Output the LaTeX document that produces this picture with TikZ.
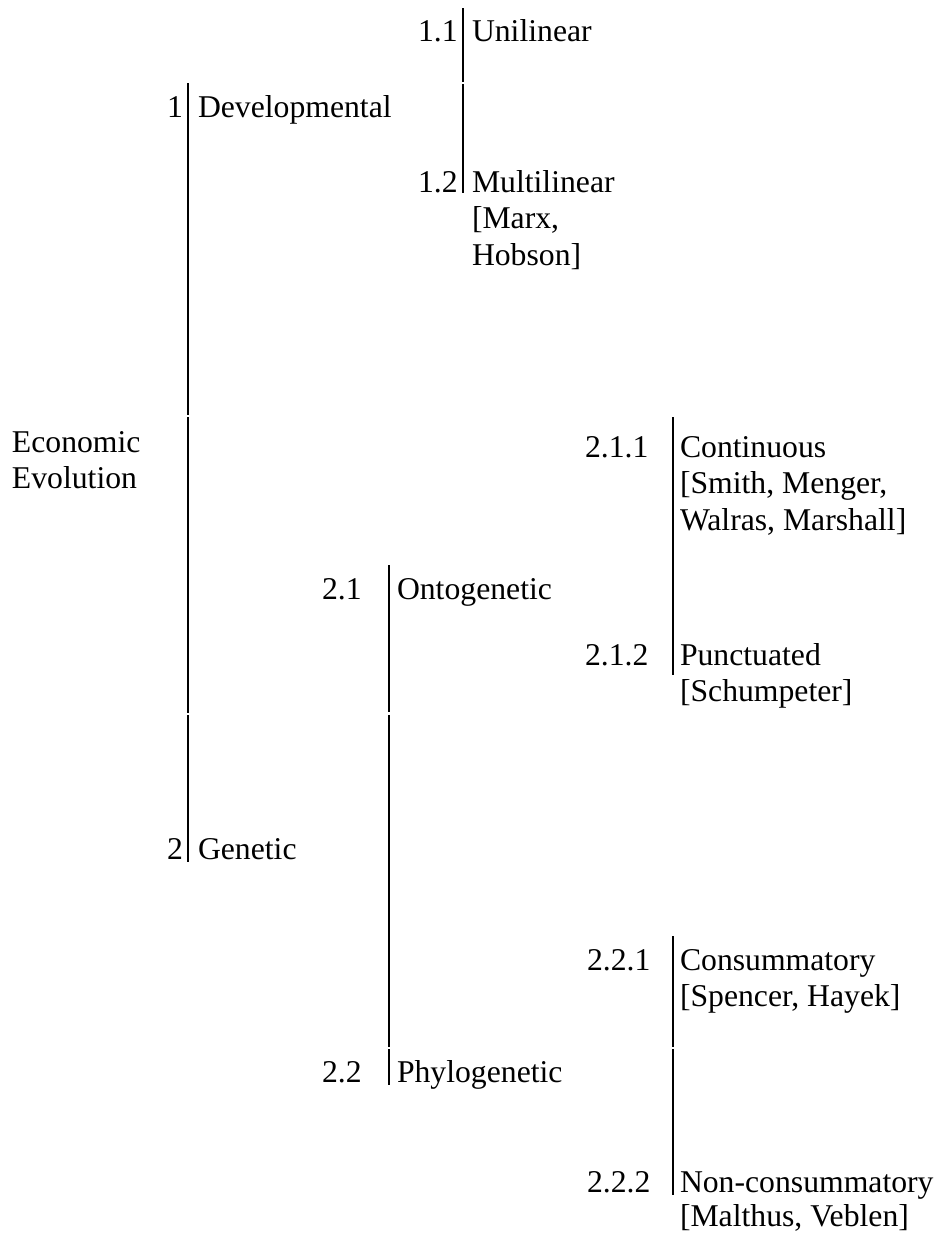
\documentclass[tikz,border=0pt]{standalone}
\usepackage{fontspec}
\setmainfont{Liberation Serif}
\begin{document}
\begin{tikzpicture}[x=1pt,y=1pt,
  txt/.style={inner sep=0pt,outer sep=0pt,anchor=base west,
    font=\fontsize{31.7}{36.5}\selectfont},
  numr/.style={txt,anchor=base east},
  rule/.style={line width=2pt,black}]
\useasboundingbox (0,0) rectangle (937,-1234);
% vertical rules (cell borders)
\foreach \n/\x/\ya/\yb in {a1/188/83/415, a2/188/417/713, a3/188/715/862,
    b1/463/8/82, b2/463/84/193,
    c1/389/565/712, c2/389/715/1047, c3/389/1049/1085,
    d1/673/417/675,
    e1/673/936/1047, e2/673/1049/1195}{
  \coordinate (\n t) at (\x,-\ya);
  \coordinate (\n b) at (\x,-\yb);
  \draw[rule] (\n t) -- (\n b);
}
% root
\node[txt] (root) at (12,-452) {\parbox[t]{200pt}{\raggedright Economic\newline Evolution}};
% level 1
\node[numr] (n1) at (183,-117) {1};
\node[txt] (t1) at (198,-117) {Developmental};
\node[numr] (n2) at (183,-859) {2};
\node[txt] (t2) at (198,-859) {Genetic};
% level 1.x
\node[txt] (n11) at (418,-41) {1.1};
\node[txt] (t11) at (472,-41) {Unilinear};
\node[txt] (n12) at (418,-192) {1.2};
\node[txt] (t12) at (472,-192) {\parbox[t]{200pt}{\raggedright Multilinear\newline [Marx,\newline Hobson]}};
% level 2.x
\node[txt] (n21) at (322,-599) {2.1};
\node[txt] (t21) at (397,-599) {Ontogenetic};
\node[txt] (n22) at (322,-1082) {2.2};
\node[txt] (t22) at (397,-1082) {Phylogenetic};
% level 2.x.x
\node[txt] (n211) at (585,-457) {2.1.1};
\node[txt] (t211) at (680,-457) {\parbox[t]{300pt}{\raggedright Continuous\newline [Smith, Menger,\newline Walras, Marshall]}};
\node[txt] (n212) at (585,-665) {2.1.2};
\node[txt] (t212) at (680,-665) {\parbox[t]{300pt}{\raggedright Punctuated\newline [Schumpeter]}};
\node[txt] (n221) at (587,-970) {2.2.1};
\node[txt] (t221) at (680,-970) {\parbox[t]{300pt}{\raggedright Consummatory\newline [Spencer, Hayek]}};
\node[txt] (n222) at (587,-1192) {2.2.2};
\node[txt] (t222) at (680,-1192) {\parbox[t]{300pt}{\raggedright\baselineskip=34.5pt Non-consummatory\newline [Malthus, Veblen]}};
\end{tikzpicture}
\end{document}
